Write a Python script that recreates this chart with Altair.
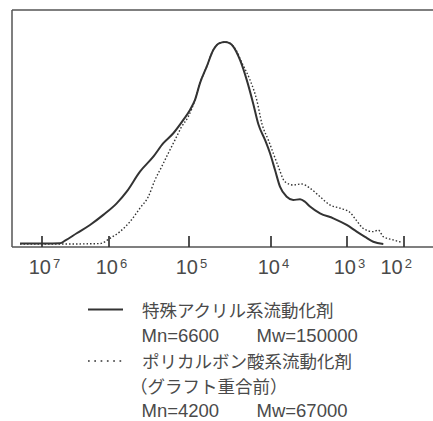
import altair as alt
import pandas as pd

# ---- data (x = log10 M, y = relative detector response, peak = 100)
solid_logm = [7.328, 6.955, 6.731, 6.657, 6.482, 6.284, 6.085, 5.904, 5.779, 5.613,
              5.446, 5.321, 5.196, 5.071, 4.988, 4.927, 4.866, 4.784, 4.704, 4.634,
              4.561, 4.500, 4.460, 4.378, 4.296, 4.216, 4.155, 4.073, 4.012, 3.947,
              3.882, 3.793, 3.707, 3.618, 3.553, 3.487, 3.355, 3.180, 3.004, 2.830,
              2.684, 2.539, 2.363]
solid_val = [0.2, 0.2, 0.3, 1.6, 5.3, 9.4, 14.4, 20.1, 25.9, 35.8,
             43.2, 49.9, 54.8, 61.4, 66.3, 71.3, 79.6, 87.8, 96.0, 99.3,
             100.0, 99.3, 97.7, 91.1, 81.2, 69.3, 59.4, 51.5, 44.9, 36.6,
             28.4, 23.4, 21.8, 22.1, 20.9, 18.5, 15.2, 12.7, 9.4, 6.1,
             3.5, 1.1, 0.0]

dotted_logm = [7.328, 6.582, 6.134, 5.988, 5.863, 5.738, 5.613, 5.509, 5.425, 5.341,
               5.259, 5.175, 5.091, 5.009, 4.927, 4.866, 4.784, 4.704, 4.634, 4.561,
               4.500, 4.427, 4.354, 4.256, 4.174, 4.110, 4.033, 3.970, 3.904, 3.816,
               3.707, 3.596, 3.487, 3.355, 3.224, 3.092, 2.947, 2.842, 2.702, 2.539,
               2.451, 2.363, 2.188, 2.040]
dotted_val = [0.0, 0.0, 0.2, 2.8, 6.1, 11.0, 17.7, 23.4, 31.7, 38.3,
              44.9, 51.5, 58.1, 63.0, 71.3, 79.6, 87.8, 96.0, 99.3, 100.0,
              99.3, 96.0, 89.6, 81.2, 71.3, 59.4, 51.5, 44.9, 38.3, 30.8,
              29.2, 29.7, 27.6, 23.4, 19.3, 17.7, 15.6, 11.9, 7.4, 6.1,
              6.9, 3.6, 2.0, 0.8]

# axis ticks (log10 M) and their labels
tick_values = [7, 6, 5, 4, 3, 2]
tick_exponents = ["7", "6", "5", "4", "3", "2"]
label_anchor = [7, 6, 5, 4, 3, 2.18]

# GPC calibration: log10 M -> position along the axis (non-uniform decades)
calib_logm = [7.448, 7, 6, 5, 4, 3, 2, 1.491]
calib_pos = [0, 30, 97, 177, 259, 335, 392, 421]

legend_1 = "特殊アクリル系流動化剤"
legend_1_stats = ["Mn=6600", "Mw=150000"]
legend_2 = "ポリカルボン酸系流動化剤"
legend_2_sub = "（グラフト重合前）"
legend_2_stats = ["Mn=4200", "Mw=67000"]

W, H = 421, 237
INK = "#333333"
TXT = "#4a4a4a"
LATIN = "Liberation Sans"
CJK = "Noto Sans CJK JP"

xscale = alt.Scale(domain=calib_logm, range=calib_pos)
yscale = alt.Scale(domain=[-1.5, 115.8])

df_solid = pd.DataFrame({"logM": solid_logm, "v": solid_val, "i": range(len(solid_val))})
df_dot = pd.DataFrame({"logM": dotted_logm, "v": dotted_val, "i": range(len(dotted_val))})
df_ticks = pd.DataFrame({"logM": tick_values, "pos": label_anchor, "exp": tick_exponents,
                         "base": ["10"] * len(tick_values)})

X = alt.X("logM:Q", scale=xscale, axis=None)
Y = alt.Y("v:Q", scale=yscale, axis=None)

solid = alt.Chart(df_solid).mark_line(color=INK, strokeWidth=2.0, interpolate="monotone").encode(
    x=X, y=Y, order=alt.Order("i:Q"))
dotted = alt.Chart(df_dot).mark_line(color=INK, strokeWidth=1.4, strokeDash=[1.5, 2.0],
                                     interpolate="monotone").encode(
    x=X, y=Y, order=alt.Order("i:Q"))

ticks = alt.Chart(df_ticks).transform_calculate(lo="-1.5", hi="4.0").mark_rule(
    color=INK, strokeWidth=1.7).encode(
    x=alt.X("logM:Q", scale=xscale, axis=None),
    y=alt.Y("lo:Q", scale=yscale, axis=None), y2="hi:Q")

lab_base = alt.Chart(df_ticks).mark_text(align="right", baseline="alphabetic", dx=9,
                                         font=LATIN, fontSize=20, color=TXT).encode(
    x=alt.X("pos:Q", scale=xscale, axis=None), y=alt.value(263.5), text="base:N")
lab_exp = alt.Chart(df_ticks).mark_text(align="left", baseline="alphabetic", dx=11,
                                        font=LATIN, fontSize=13, color=TXT).encode(
    x=alt.X("pos:Q", scale=xscale, axis=None), y=alt.value(258), text="exp:N")

one = pd.DataFrame({"a": [0]})


def frame(x, x2, y, y2):
    return alt.Chart(one).mark_rule(color="#555555", strokeWidth=1.5).encode(
        x=alt.value(x), x2=alt.value(x2), y=alt.value(y), y2=alt.value(y2))


borders = [frame(0, W, 0, 0), frame(0, 0, 0, H), frame(0, W, H, H)]


def label(text, x, y, font, size=18.5):
    return alt.Chart(pd.DataFrame({"t": [text]})).mark_text(
        align="left", baseline="alphabetic", font=font, fontSize=size, color=TXT).encode(
        x=alt.value(x), y=alt.value(y), text="t:N")


leg_solid = alt.Chart(one).mark_rule(color=INK, strokeWidth=1.8).encode(
    x=alt.value(76), x2=alt.value(111), y=alt.value(299.5))
leg_dot = alt.Chart(one).mark_rule(color=INK, strokeWidth=1.7, strokeDash=[1.7, 4.6]).encode(
    x=alt.value(76), x2=alt.value(112), y=alt.value(351))

texts = [
    label(legend_1, 130, 307, CJK, 17.5),
    label(legend_1_stats[0], 129.5, 332, LATIN),
    label(legend_1_stats[1], 244.5, 332, LATIN),
    label(legend_2, 130, 358, CJK, 17.5),
    label(legend_2_sub, 118, 383, CJK, 17.5),
    label(legend_2_stats[0], 129.5, 407, LATIN),
    label(legend_2_stats[1], 244.5, 407, LATIN),
]

chart = alt.layer(
    *borders, ticks, dotted, solid, lab_base, lab_exp, leg_solid, leg_dot, *texts
).properties(
    width=W, height=H,
    autosize=alt.AutoSizeParams(type="none"),
    padding={"left": 12, "top": 10, "right": 0, "bottom": 174},
    background="white",
).configure_view(stroke=None)

chart.save("out.html", embed_options={"renderer": "svg", "actions": False})
